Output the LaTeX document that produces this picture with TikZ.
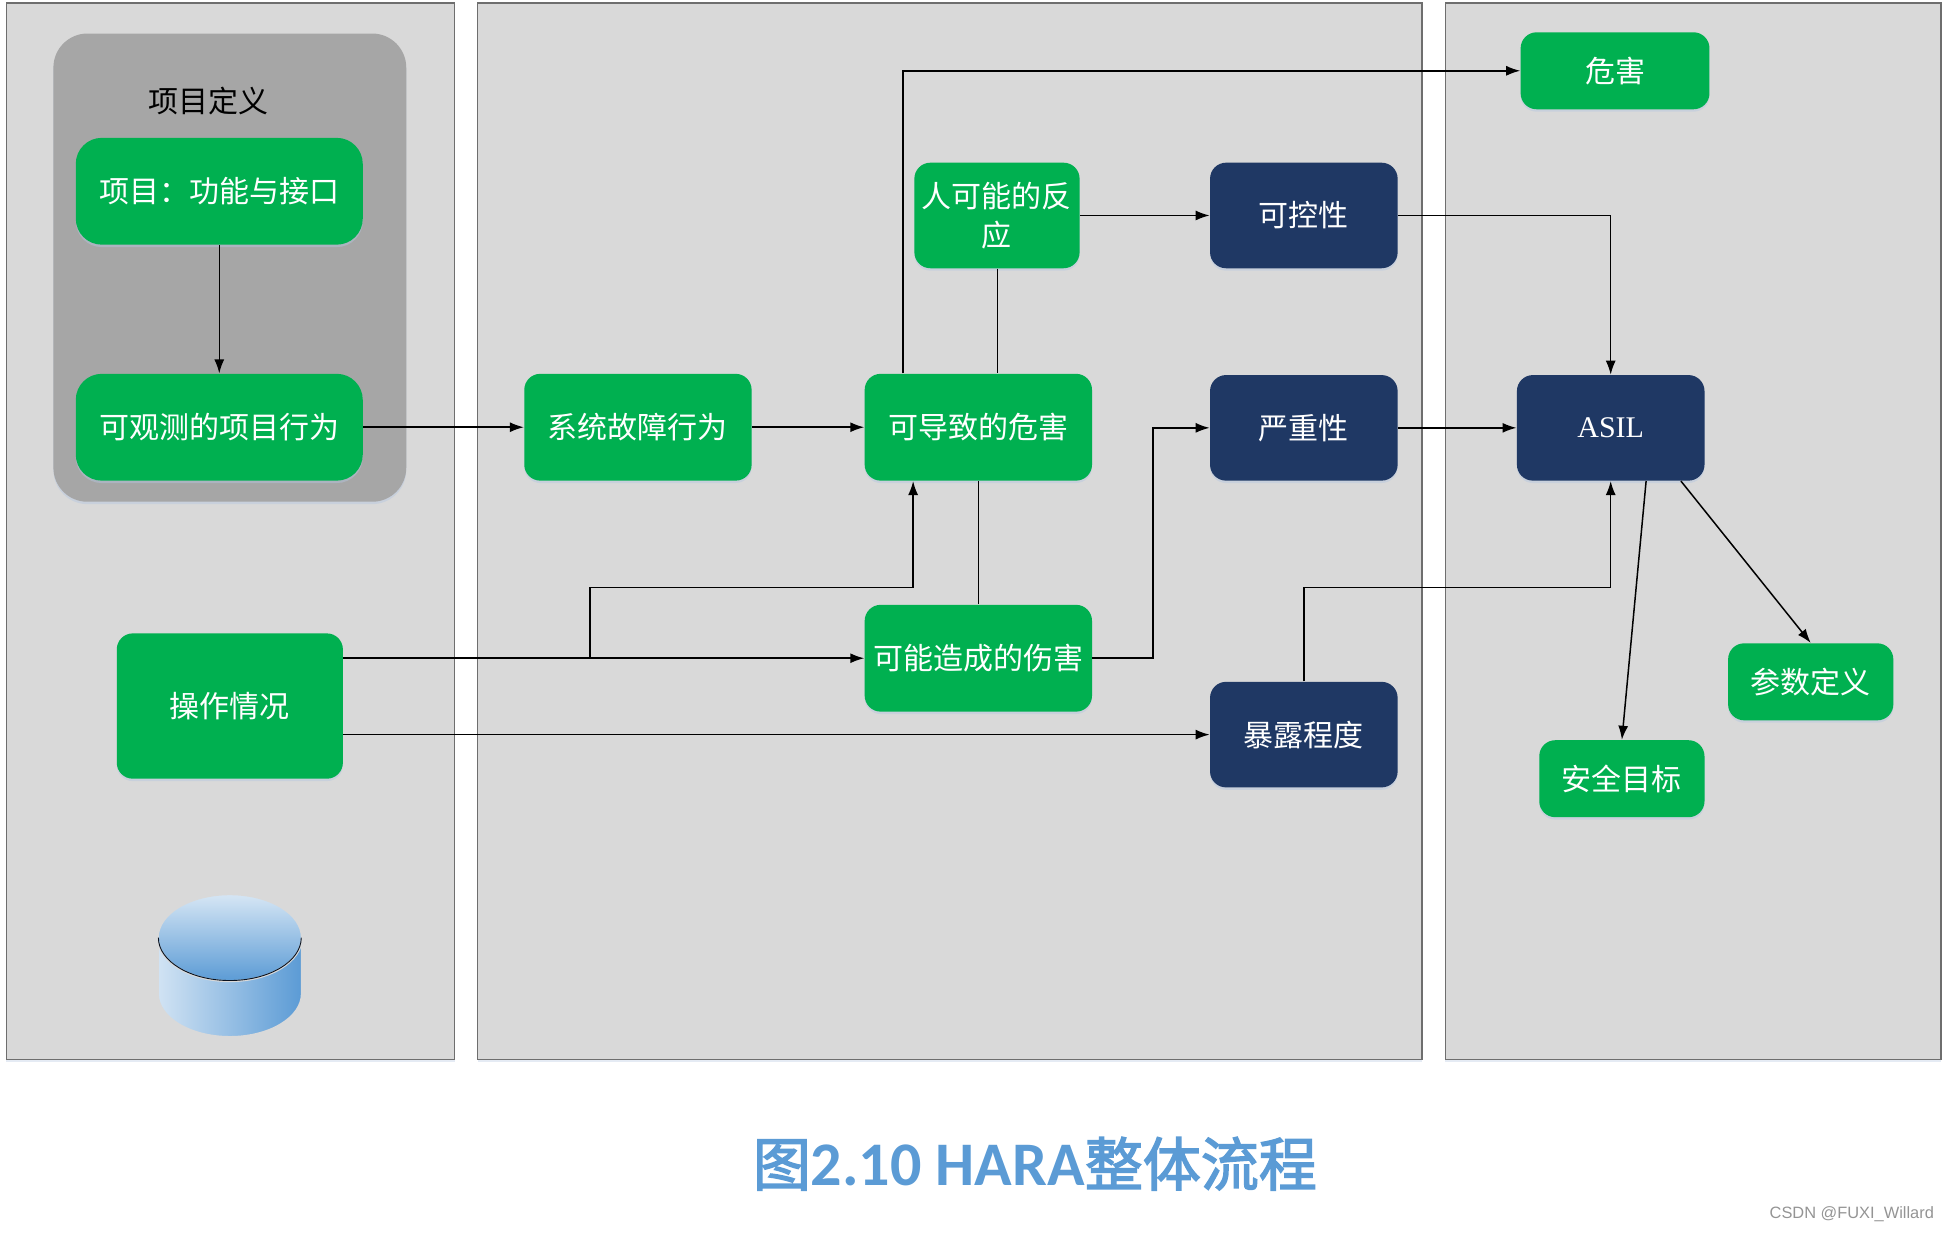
\documentclass[tikz,border=0pt]{standalone}
\usepackage{fontspec}
\setmainfont{Liberation Serif}
\newfontfamily\cjk{Noto Sans CJK SC}
\newfontfamily\cjkt[FakeBold=2.5]{Noto Sans CJK SC}
\newfontfamily\carl{Carlito}
\newfontfamily\lsans{Liberation Sans}
\usetikzlibrary{arrows.meta,shadows}
\definecolor{panelfill}{HTML}{D9D9D9}
\definecolor{paneledge}{HTML}{6E6E6E}
\definecolor{outer}{HTML}{A6A6A6}
\definecolor{gbox}{HTML}{00B050}
\definecolor{nbox}{HTML}{1F3864}
\definecolor{ttl}{HTML}{5B9BD5}
\definecolor{shad}{HTML}{B4C7E0}
\tikzset{
  x=0.62117pt,y=-0.62097pt,
  softshadow/.style={general shadow={fill=shad,opacity=.45,shadow yshift=-1.2pt,shadow xshift=0pt}},
  panel/.style={draw=paneledge,line width=0.7pt,fill=panelfill,inner sep=0pt,
     general shadow={fill=shad,opacity=.35,shadow yshift=-1.4pt,shadow xshift=0pt}},
  outerbox/.style={fill=outer,rounded corners=17pt,inner sep=0pt,softshadow},
  greenbox/.style={fill=gbox,text=white,font=\cjk\fontsize{15}{19.3}\selectfont,align=center,inner sep=0pt,rounded corners=8pt,softshadow},
  navybox/.style={fill=nbox,text=white,font=\cjk\fontsize{15}{19.3}\selectfont,align=center,inner sep=0pt,rounded corners=8pt,softshadow},
  bigr/.style={rounded corners=13pt},
  conn/.style={draw=black,line width=0.75pt},
  arr/.style={conn,-{Latex[length=7pt,width=5pt]}},
}
\newcommand{\bx}[7]{%
  \pgfmathsetmacro{\bw}{(#4-#2)*0.62117}%
  \pgfmathsetmacro{\bh}{(#5-#3)*0.62097}%
  \node[#6,minimum width=\bw pt,minimum height=\bh pt] (#1) at ({(#2+#4)/2},{(#3+#5)/2}) {#7};%
}
\begin{document}
\begin{tikzpicture}
\useasboundingbox (0,0) rectangle (1568,992);
% panels
\bx{p1}{5}{2.5}{366}{853}{panel}{}
\bx{p2}{384.5}{2.5}{1144.5}{853}{panel}{}
\bx{p3}{1163.5}{2.5}{1562.5}{853}{panel}{}
\bx{outerr}{43}{27}{327}{404}{outerbox}{}
\node[font=\cjk\fontsize{15}{18}\selectfont,text=black,inner sep=0pt] (deftitle) at (167.5,81) {项目定义};
% boxes
\bx{A}{61}{111}{292}{197}{greenbox,bigr}{项目：功能与接口}
\bx{B}{61}{301}{292}{387}{greenbox,bigr}{可观测的项目行为}
\bx{C}{422}{301}{605}{387}{greenbox}{系统故障行为}
\bx{D}{696}{301}{879}{387}{greenbox}{可导致的危害}
\bx{E}{736}{131}{869}{216}{greenbox}{\raisebox{1.2pt}{人可能的反}\\\raisebox{1.2pt}{应}}
\bx{F}{974}{131}{1125}{216}{navybox}{可控性}
\bx{G}{974}{302}{1125}{387}{navybox}{严重性}
\bx{H}{974}{549}{1125}{634}{navybox}{暴露程度}
\bx{I}{696}{487}{879}{573}{greenbox}{可能造成的伤害}
\bx{J}{94}{510}{276}{627}{greenbox}{操作情况}
\bx{K}{1224}{26}{1376}{88}{greenbox}{危害}
\bx{L}{1221}{302}{1372}{387}{navybox,font=\rmfamily\fontsize{15}{18}\selectfont}{ASIL}
\bx{M}{1391}{518}{1524}{580}{greenbox}{参数定义}
\bx{N}{1239}{596}{1372}{658}{greenbox}{安全目标}
% helper coordinates
\coordinate (xk) at (727,0);
\coordinate (xe) at (803,0);
\coordinate (br) at (475,473);
\coordinate (xd) at (735,0);
\coordinate (xg) at (928,0);
\coordinate (hy) at (1049.5,473);
\coordinate (xl1) at (1325,0);
\coordinate (xl2) at (1353,0);
% connectors
\draw[arr] (A) -- (B);
\draw[arr] (B) -- (C);
\draw[arr] (C) -- (D);
\draw[arr] (D.north -| xk) |- (K.west);
\draw[conn] (E.south -| xe) -- (D.north -| xe);
\draw[arr] (E.east) -- (F.west);
\draw[arr] (F.east) -| (L.north);
\draw[arr] (G) -- (L);
\draw[conn] (D.south) -- (I.north);
\draw[arr] (I.west -| J.east) -- (I.west);
\draw[arr] (I.west -| br) -- (br) -- (br -| xd) -- (D.south -| xd);
\draw[arr] (H.west -| J.east) -- (H.west);
\draw[arr] (I.east) -- (I.east -| xg) -- (G.west -| xg) -- (G.west);
\draw[arr] (H.north) -- (hy) -| (L.south);
\draw[arr] (L.south -| xl1) -- (N.north);
\draw[arr] (L.south -| xl2) -- (M.north);
% cylinder
\path[draw=black!15,line width=1pt,left color=ttl!28,right color=ttl]
  (127,755) -- (127,800) arc[start angle=180,end angle=0,x radius=58,y radius=35] -- (243,755) -- cycle;
\path[draw=black!15,line width=1pt,top color=ttl!25,bottom color=ttl]
  (185,755) ellipse[x radius=58,y radius=35];
\draw[black!70!nbox,line width=0.45pt] (127.5,755) arc[start angle=180,end angle=0,x radius=57.5,y radius=34.5];
% title
\node[text=ttl,inner sep=0pt] (title) at (833,937)
  {{\cjkt\fontsize{29}{34}\selectfont 图}{\carl\bfseries\fontsize{31}{34}\selectfont 2.10 HARA}{\cjkt\fontsize{29}{34}\selectfont 整体流程}};
\node[anchor=east,text=black!42,inner sep=0pt,font=\lsans\fontsize{8.2}{10}\selectfont] (wm) at (1557,978) {CSDN @FUXI\_Willard};
\end{tikzpicture}
\end{document}
